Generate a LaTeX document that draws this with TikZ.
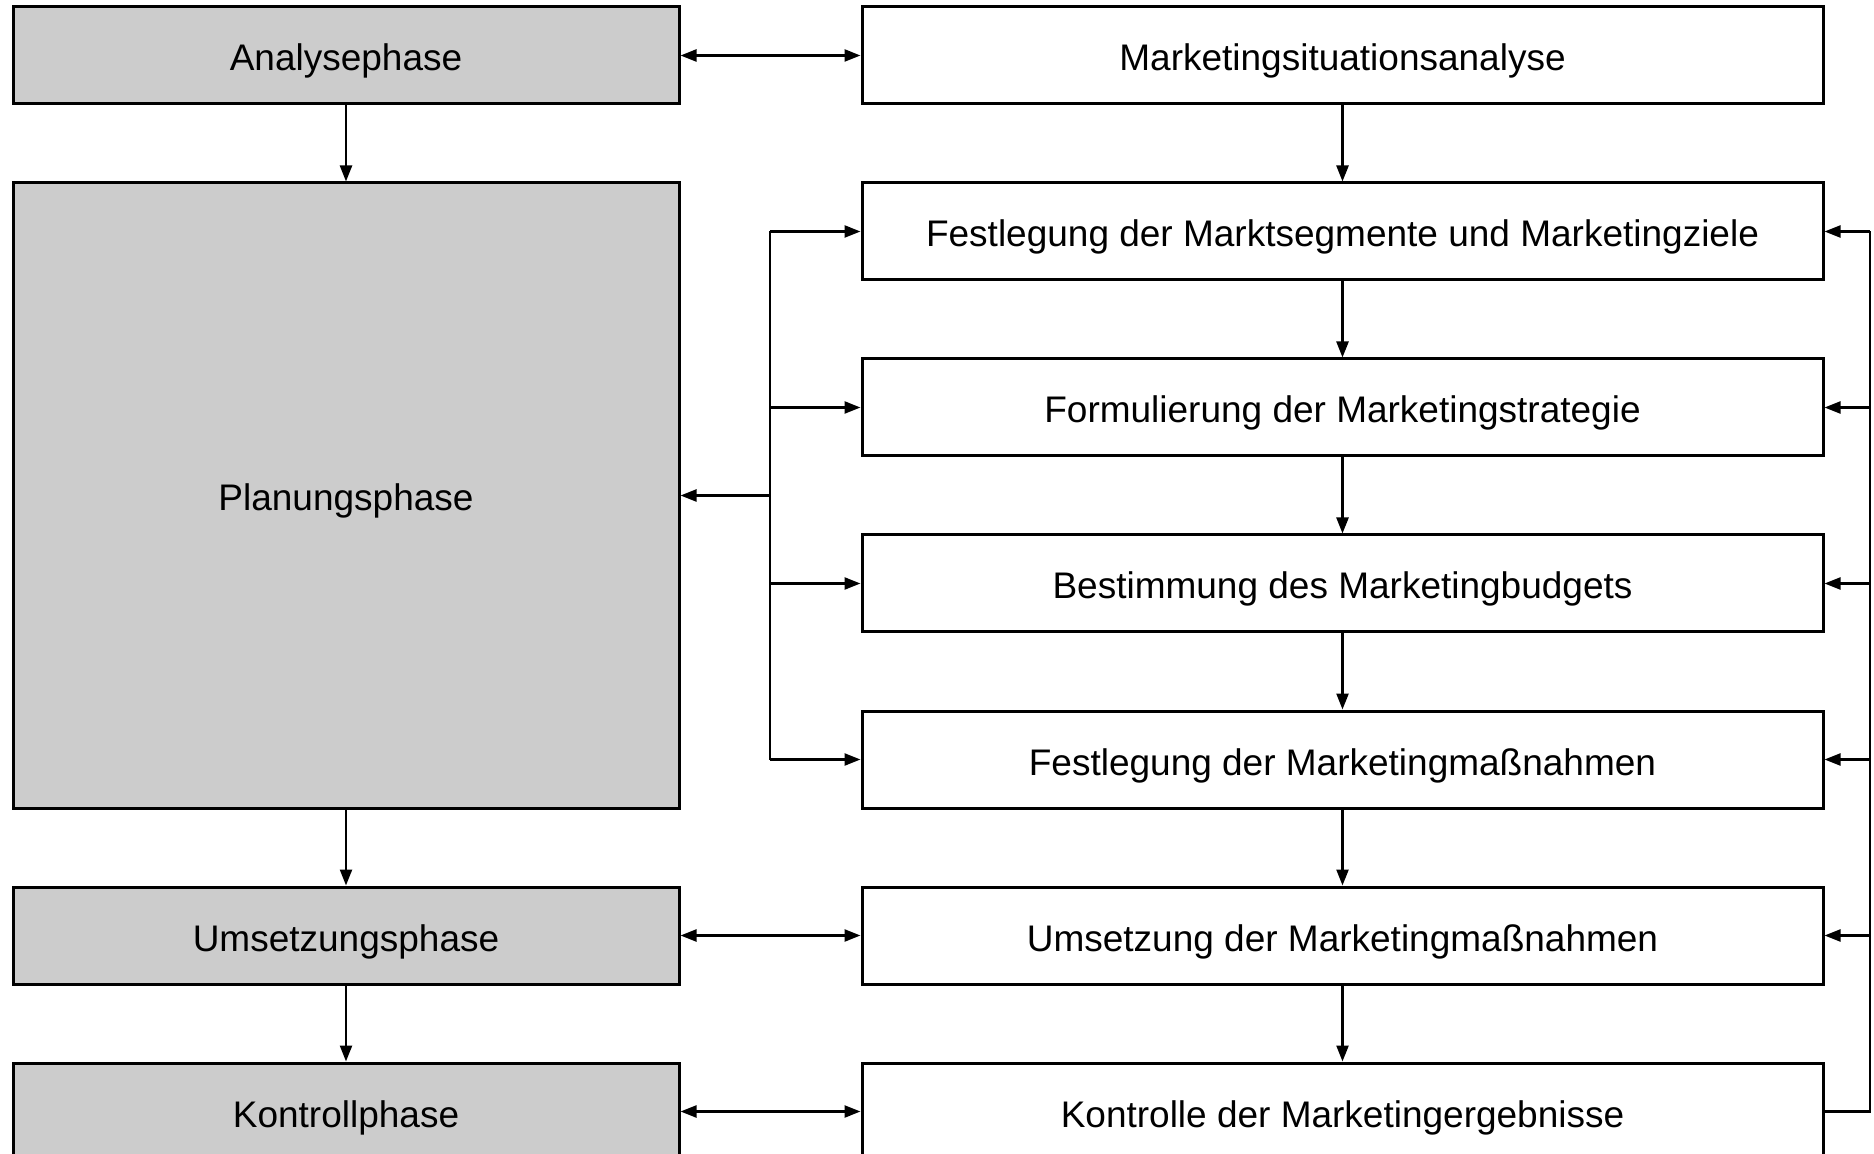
\documentclass[tikz,border=0pt]{standalone}
\usepackage{fontspec}
\setmainfont{Liberation Sans}
\usetikzlibrary{arrows.meta}
\definecolor{phasegray}{HTML}{CCCCCC}
\begin{document}
\begin{tikzpicture}[x=0.5pt,y=-0.5pt,
  box/.style={draw, line width=1.5pt, inner sep=0pt, minimum height=48.5pt,
    text height=15.5pt, text depth=0pt,
    font=\fontsize{18.5}{22}\selectfont},
  phase/.style={box, fill=phasegray, minimum width=333pt},
  task/.style={box, fill=white, minimum width=480.5pt},
  tip/.tip={Triangle[length=8pt,width=6pt]},
  link/.style={line width=1.2pt, -tip},
  both/.style={line width=1.2pt, tip-tip},
  plain/.style={line width=1.2pt}]
\path[use as bounding box, clip] (0,0) rectangle (1874,1154);

% phases (left column)
\node[phase] (ana)  at (346,55.5)   {Analysephase};
\node[phase, minimum height=312.5pt] (plan) at (346,495.5) {Planungsphase};
\node[phase] (ums)  at (346,935.5)  {Umsetzungsphase};
\node[phase] (kon)  at (346,1111.5) {Kontrollphase};

% tasks (right column)
\node[task] (t1) at (1342.5,55.5)   {Marketingsituationsanalyse};
\node[task] (t2) at (1342.5,231.5)  {Festlegung der Marktsegmente und Marketingziele};
\node[task] (t3) at (1342.5,407.5)  {Formulierung der Marketingstrategie};
\node[task] (t4) at (1342.5,583.5)  {Bestimmung des Marketingbudgets};
\node[task] (t5) at (1342.5,759.5)  {Festlegung der Marketingmaßnahmen};
\node[task] (t6) at (1342.5,935.5)  {Umsetzung der Marketingmaßnahmen};
\node[task] (t7) at (1342.5,1111.5) {Kontrolle der Marketingergebnisse};

\coordinate (forkx) at (770,0);
\coordinate (backx) at (1870,0);

% sequence of phases
\draw[link] (ana.south) -- (plan.north);
\draw[link] (plan.south) -- (ums.north);
\draw[link] (ums.south) -- (kon.north);

% sequence of tasks
\foreach \i/\j in {1/2,2/3,3/4,4/5,5/6,6/7}
  \draw[link] (t\i.south) -- (t\j.north);

% phase <-> task
\draw[both] (ana.east) -- (t1.west);
\draw[both] (ums.east) -- (t6.west);
\draw[both] (kon.east) -- (t7.west);

% planning fork
\draw[link] (plan.east -| forkx) -- (plan.east);
\draw[plain] (t2.west -| forkx) -- (t5.west -| forkx);
\foreach \i in {2,...,5}
  \draw[link] (t\i.west -| forkx) -- (t\i.west);

% feedback from control
\draw[plain] (t7.east) -- (t7.east -| backx) -- (t2.east -| backx);
\foreach \i in {2,...,6}
  \draw[link] (t\i.east -| backx) -- (t\i.east);
\end{tikzpicture}
\end{document}
